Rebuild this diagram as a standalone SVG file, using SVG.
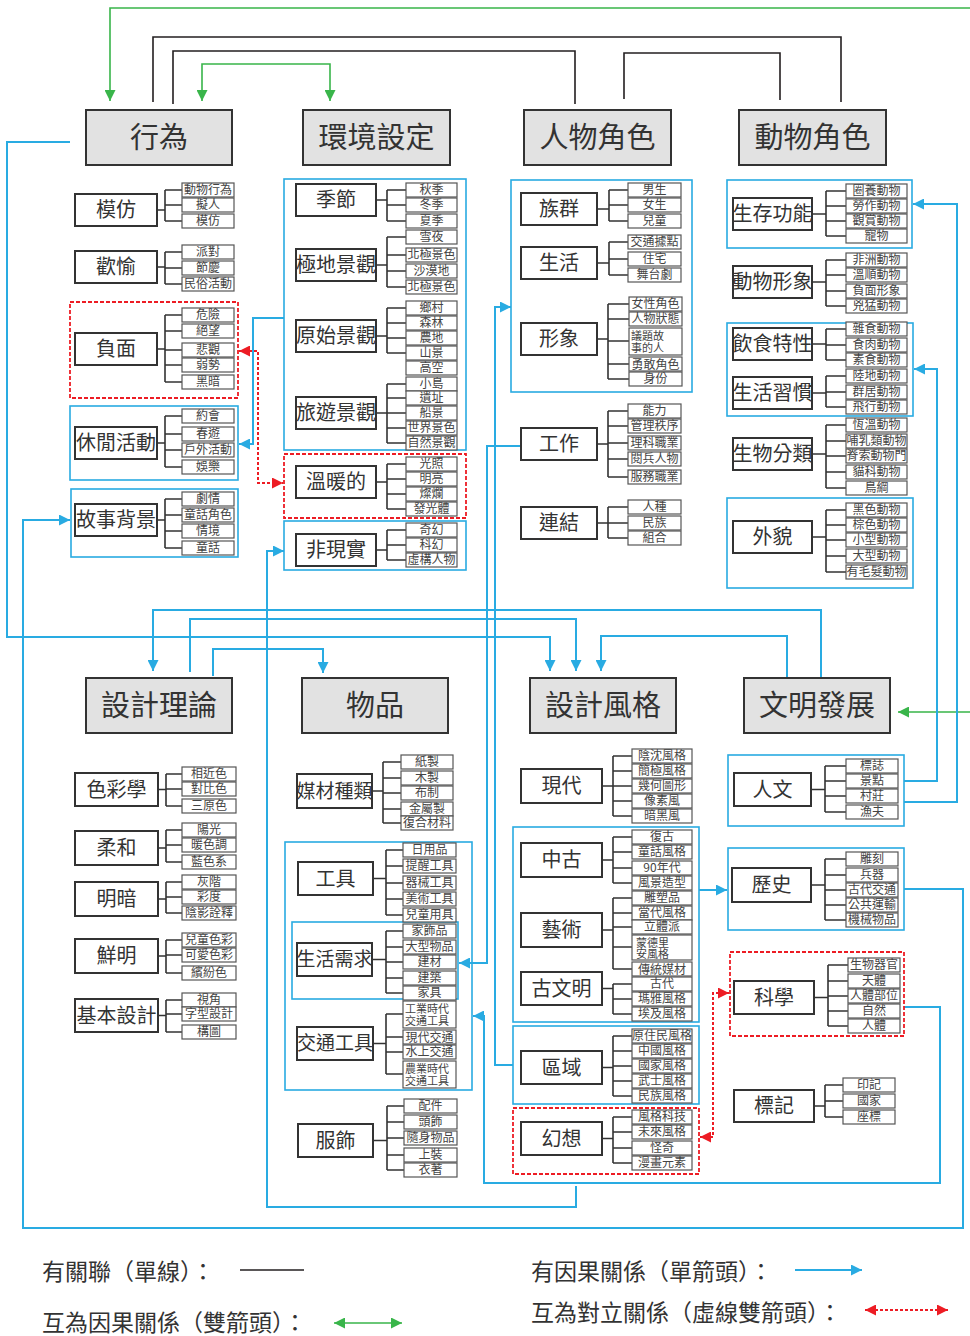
<svg xmlns="http://www.w3.org/2000/svg" width="970" height="1336" viewBox="0 0 970 1336" font-family="'Noto Sans CJK TC','Noto Sans CJK SC',sans-serif">
<style>
.m{fill:#e2e2e2;stroke:#333;stroke-width:2}
.mt{font-size:29px;fill:#333;text-anchor:middle}
.s{fill:#fff;stroke:#333;stroke-width:2}
.st{font-size:20px;fill:#333;text-anchor:middle}
.st19{font-size:19px;fill:#333;text-anchor:middle}
.l{fill:#fff;stroke:#555;stroke-width:1.2}
.lt{font-size:12px;fill:#444;text-anchor:middle}
.l2{font-size:11px;fill:#444}
.br{fill:none;stroke:#333;stroke-width:1.6}
.gb{fill:none;stroke:#29abe2;stroke-width:1.6}
.gr{fill:none;stroke:#ed1c24;stroke-width:1.8;stroke-dasharray:4 2}
.cb{fill:none;stroke:#29abe2;stroke-width:2}
.cg{fill:none;stroke:#39b54a;stroke-width:1.6}
.ck{fill:none;stroke:#231f20;stroke-width:1.6}
.cr{fill:none;stroke:#ed1c24;stroke-width:2;stroke-dasharray:3 2}
.lg{font-size:23px;fill:#333}
</style>
<defs>
<marker id="ab" viewBox="0 0 10 10" refX="10" refY="5" markerWidth="11" markerHeight="11" markerUnits="userSpaceOnUse" orient="auto"><path d="M0,0L10,5L0,10z" fill="#29abe2"/></marker>
<marker id="ag" viewBox="0 0 10 10" refX="10" refY="5" markerWidth="11" markerHeight="11" markerUnits="userSpaceOnUse" orient="auto-start-reverse"><path d="M0,0L10,5L0,10z" fill="#39b54a"/></marker>
<marker id="ar" viewBox="0 0 10 10" refX="10" refY="5" markerWidth="11" markerHeight="11" markerUnits="userSpaceOnUse" orient="auto-start-reverse"><path d="M0,0L10,5L0,10z" fill="#ed1c24"/></marker>
</defs>
<rect width="970" height="1336" fill="#fff"/>

<g id="connectors">
<path class="ck" d="M153,102V37H841V102"/>
<path class="ck" d="M173,104V51H575V104"/>
<path class="ck" d="M624,99V53H780V100"/>
<path class="cg" d="M110,101V8H980V712H898" marker-start="url(#ag)" marker-end="url(#ag)"/>
<path class="cg" d="M202,101V64H330V101" marker-start="url(#ag)" marker-end="url(#ag)"/>
<path class="cb" d="M70,142H7V637H550V671" marker-end="url(#ab)"/>
<path class="cb" d="M821,677V610H153V671" marker-end="url(#ab)"/>
<path class="cb" d="M190,672V619H576V671" marker-end="url(#ab)"/>
<path class="cb" d="M787,677V636H601V671" marker-end="url(#ab)"/>
<path class="cb" d="M213,676V649H323V673" marker-end="url(#ab)"/>
<path class="cb" d="M284,318H253V444H239" marker-end="url(#ab)"/>
<path class="cb" d="M513,1065H495V307H511" marker-end="url(#ab)"/>
<path class="cb" d="M521,446H487V963H459" marker-end="url(#ab)"/>
<path class="cb" d="M699,890H727" marker-end="url(#ab)"/>
<path class="cb" d="M904,781H937V369H914" marker-end="url(#ab)"/>
<path class="cb" d="M904,802H957V204H913" marker-end="url(#ab)"/>
<path class="cb" d="M904,889H963V1228H23V520H70" marker-end="url(#ab)"/>
<path class="cb" d="M904,1007H940V1183H484V1016H473" marker-end="url(#ab)"/>
<path class="cb" d="M576,1186V1207H267V551H284" marker-end="url(#ab)"/>
<path class="cr" d="M239,351H258V483H283" marker-start="url(#ar)" marker-end="url(#ar)"/>
<path class="cr" d="M729,993H713V1137H700" marker-start="url(#ar)" marker-end="url(#ar)"/>
</g>

<g id="main-行為"><rect class="m" x="86" y="110" width="146" height="55"/><text class="mt" x="159" y="148">行為</text></g>
<g id="main-環境設定"><rect class="m" x="303" y="110" width="147" height="55"/><text class="mt" x="376.5" y="148">環境設定</text></g>
<g id="main-人物角色"><rect class="m" x="524" y="110" width="147" height="55"/><text class="mt" x="597.5" y="148">人物角色</text></g>
<g id="main-動物角色"><rect class="m" x="739" y="110" width="147" height="55"/><text class="mt" x="812.5" y="148">動物角色</text></g>
<g id="main-設計理論"><rect class="m" x="86" y="678" width="146" height="55"/><text class="mt" x="159" y="716">設計理論</text></g>
<g id="main-物品"><rect class="m" x="302" y="678" width="146" height="55"/><text class="mt" x="375" y="716">物品</text></g>
<g id="main-設計風格"><rect class="m" x="530" y="678" width="146" height="55"/><text class="mt" x="603" y="716">設計風格</text></g>
<g id="main-文明發展"><rect class="m" x="744" y="678" width="146" height="55"/><text class="mt" x="817" y="716">文明發展</text></g>

<g id="frames">
<rect class="gr" x="70" y="302" width="168" height="96"/>
<rect class="gb" x="70" y="406" width="168" height="74"/>
<rect class="gb" x="71" y="489" width="167" height="68"/>
<rect class="gb" x="284" y="179" width="182" height="271"/>
<rect class="gr" x="284" y="454" width="182" height="64"/>
<rect class="gb" x="284" y="521" width="182" height="49"/>
<rect class="gb" x="511" y="180" width="181" height="212"/>
<rect class="gb" x="727" y="180" width="185" height="68"/>
<rect class="gb" x="727" y="323" width="186" height="93"/>
<rect class="gb" x="727" y="498" width="186" height="90"/>
<rect class="gb" x="285" y="842" width="187" height="248"/>
<rect class="gb" x="292" y="922" width="166" height="77"/>
<rect class="gb" x="513" y="827" width="186" height="195"/>
<rect class="gb" x="513" y="1026" width="186" height="78"/>
<rect class="gr" x="513" y="1108" width="186" height="66"/>
<rect class="gb" x="728" y="755" width="176" height="71"/>
<rect class="gb" x="728" y="848" width="176" height="82"/>
<rect class="gr" x="730" y="952" width="174" height="84"/>
</g>

<g id="n-模仿"><rect class="s" x="75" y="194" width="82" height="32"/><text class="st" x="116" y="217">模仿</text>
<path class="br" d="M157,210H165M165,190V221M165,190H182M165,205H182M165,221H182"/>
<rect class="l" x="182" y="183" width="52" height="14"/><text class="lt" x="208" y="194">動物行為</text>
<rect class="l" x="182" y="198" width="52" height="14"/><text class="lt" x="208" y="209">擬人</text>
<rect class="l" x="182" y="214" width="52" height="14"/><text class="lt" x="208" y="225">模仿</text></g>

<g id="n-歡愉"><rect class="s" x="75" y="251" width="82" height="32"/><text class="st" x="116" y="274">歡愉</text>
<path class="br" d="M157,267H165M165,252V284M165,252H182M165,268H182M165,284H182"/>
<rect class="l" x="182" y="245" width="52" height="14"/><text class="lt" x="208" y="256">派對</text>
<rect class="l" x="182" y="261" width="52" height="14"/><text class="lt" x="208" y="272">節慶</text>
<rect class="l" x="182" y="277" width="52" height="14"/><text class="lt" x="208" y="288">民俗活動</text></g>

<g id="n-負面"><rect class="s" x="75" y="333" width="82" height="32"/><text class="st" x="116" y="356">負面</text>
<path class="br" d="M157,349H165M165,315V382M165,315H182M165,331H182M165,350H182M165,365H182M165,382H182"/>
<rect class="l" x="182" y="308" width="52" height="14"/><text class="lt" x="208" y="319">危險</text>
<rect class="l" x="182" y="324" width="52" height="14"/><text class="lt" x="208" y="335">絕望</text>
<rect class="l" x="182" y="343" width="52" height="14"/><text class="lt" x="208" y="354">悲觀</text>
<rect class="l" x="182" y="358" width="52" height="14"/><text class="lt" x="208" y="369">弱勢</text>
<rect class="l" x="182" y="375" width="52" height="14"/><text class="lt" x="208" y="386">黑暗</text></g>

<g id="n-休閒活動"><rect class="s" x="75" y="427" width="82" height="32"/><text class="st" x="116" y="450">休閒活動</text>
<path class="br" d="M157,443H165M165,416V467M165,416H182M165,434H182M165,450H182M165,467H182"/>
<rect class="l" x="182" y="409" width="52" height="14"/><text class="lt" x="208" y="420">約會</text>
<rect class="l" x="182" y="427" width="52" height="14"/><text class="lt" x="208" y="438">春遊</text>
<rect class="l" x="182" y="443" width="52" height="14"/><text class="lt" x="208" y="454">戶外活動</text>
<rect class="l" x="182" y="460" width="52" height="14"/><text class="lt" x="208" y="471">娛樂</text></g>

<g id="n-故事背景"><rect class="s" x="75" y="504" width="82" height="32"/><text class="st" x="116" y="527">故事背景</text>
<path class="br" d="M157,520H165M165,499V548M165,499H182M165,515H182M165,531H182M165,548H182"/>
<rect class="l" x="182" y="492" width="52" height="14"/><text class="lt" x="208" y="503">劇情</text>
<rect class="l" x="182" y="508" width="52" height="14"/><text class="lt" x="208" y="519">童話角色</text>
<rect class="l" x="182" y="524" width="52" height="14"/><text class="lt" x="208" y="535">情境</text>
<rect class="l" x="182" y="541" width="52" height="14"/><text class="lt" x="208" y="552">童話</text></g>

<g id="n-季節"><rect class="s" x="296" y="184" width="80" height="32"/><text class="st" x="336" y="207">季節</text>
<path class="br" d="M376,200H387M387,190V221M387,190H406M387,205H406M387,221H406"/>
<rect class="l" x="406" y="183" width="51" height="14"/><text class="lt" x="431.5" y="194">秋季</text>
<rect class="l" x="406" y="198" width="51" height="14"/><text class="lt" x="431.5" y="209">冬季</text>
<rect class="l" x="406" y="214" width="51" height="14"/><text class="lt" x="431.5" y="225">夏季</text></g>

<g id="n-極地景觀"><rect class="s" x="296" y="249" width="80" height="32"/><text class="st" x="336" y="272">極地景觀</text>
<path class="br" d="M376,265H387M387,237V287M387,237H406M387,255H406M387,271H406M387,287H406"/>
<rect class="l" x="406" y="230" width="51" height="14"/><text class="lt" x="431.5" y="241">雪夜</text>
<rect class="l" x="406" y="248" width="51" height="14"/><text class="lt" x="431.5" y="259">北極景色</text>
<rect class="l" x="406" y="264" width="51" height="14"/><text class="lt" x="431.5" y="275">沙漠地</text>
<rect class="l" x="406" y="280" width="51" height="14"/><text class="lt" x="431.5" y="291">北極景色</text></g>

<g id="n-原始景觀"><rect class="s" x="296" y="320" width="80" height="32"/><text class="st" x="336" y="343">原始景觀</text>
<path class="br" d="M376,336H387M387,308V353M387,308H406M387,323H406M387,338H406M387,353H406"/>
<rect class="l" x="406" y="301" width="51" height="14"/><text class="lt" x="431.5" y="312">鄉村</text>
<rect class="l" x="406" y="316" width="51" height="14"/><text class="lt" x="431.5" y="327">森林</text>
<rect class="l" x="406" y="331" width="51" height="14"/><text class="lt" x="431.5" y="342">農地</text>
<rect class="l" x="406" y="346" width="51" height="14"/><text class="lt" x="431.5" y="357">山景</text>
<rect class="l" x="406" y="361" width="51" height="14"/><text class="lt" x="431.5" y="372">高空</text></g>

<g id="n-旅遊景觀"><rect class="s" x="296" y="397" width="80" height="32"/><text class="st" x="336" y="420">旅遊景觀</text>
<path class="br" d="M376,413H387M387,384V443M387,384H406M387,398H406M387,413H406M387,428H406M387,443H406"/>
<rect class="l" x="406" y="377" width="51" height="14"/><text class="lt" x="431.5" y="388">小島</text>
<rect class="l" x="406" y="391" width="51" height="14"/><text class="lt" x="431.5" y="402">遺址</text>
<rect class="l" x="406" y="406" width="51" height="14"/><text class="lt" x="431.5" y="417">船景</text>
<rect class="l" x="406" y="421" width="51" height="14"/><text class="lt" x="431.5" y="432">世界景色</text>
<rect class="l" x="406" y="436" width="51" height="14"/><text class="lt" x="431.5" y="447">自然景觀</text></g>

<g id="n-溫暖的"><rect class="s" x="296" y="466" width="80" height="32"/><text class="st" x="336" y="489">溫暖的</text>
<path class="br" d="M376,482H387M387,464V509M387,464H406M387,479H406M387,494H406M387,509H406"/>
<rect class="l" x="406" y="457" width="51" height="14"/><text class="lt" x="431.5" y="468">光照</text>
<rect class="l" x="406" y="472" width="51" height="14"/><text class="lt" x="431.5" y="483">明亮</text>
<rect class="l" x="406" y="487" width="51" height="14"/><text class="lt" x="431.5" y="498">燦爛</text>
<rect class="l" x="406" y="502" width="51" height="14"/><text class="lt" x="431.5" y="513">發光體</text></g>

<g id="n-非現實"><rect class="s" x="296" y="534" width="80" height="32"/><text class="st" x="336" y="557">非現實</text>
<path class="br" d="M376,550H387M387,530V560M387,530H406M387,545H406M387,560H406"/>
<rect class="l" x="406" y="523" width="51" height="14"/><text class="lt" x="431.5" y="534">奇幻</text>
<rect class="l" x="406" y="538" width="51" height="14"/><text class="lt" x="431.5" y="549">科幻</text>
<rect class="l" x="406" y="553" width="51" height="14"/><text class="lt" x="431.5" y="564">虛構人物</text></g>

<g id="n-族群"><rect class="s" x="521" y="193" width="76" height="32"/><text class="st" x="559" y="216">族群</text>
<path class="br" d="M597,209H609M609,190V221M609,190H628M609,205H628M609,221H628"/>
<rect class="l" x="628" y="183" width="53" height="14"/><text class="lt" x="654.5" y="194">男生</text>
<rect class="l" x="628" y="198" width="53" height="14"/><text class="lt" x="654.5" y="209">女生</text>
<rect class="l" x="628" y="214" width="53" height="14"/><text class="lt" x="654.5" y="225">兒童</text></g>

<g id="n-生活"><rect class="s" x="521" y="247" width="76" height="32"/><text class="st" x="559" y="270">生活</text>
<path class="br" d="M597,263H609M609,242V275M609,242H628M609,259H628M609,275H628"/>
<rect class="l" x="628" y="235" width="53" height="14"/><text class="lt" x="654.5" y="246">交通據點</text>
<rect class="l" x="628" y="252" width="53" height="14"/><text class="lt" x="654.5" y="263">住宅</text>
<rect class="l" x="628" y="268" width="53" height="14"/><text class="lt" x="654.5" y="279">舞台劇</text></g>

<g id="n-形象"><rect class="s" x="521" y="323" width="76" height="32"/><text class="st" x="559" y="346">形象</text>
<path class="br" d="M597,339H608M608,304V379M608,304H629M608,319H629M608,341H629M608,364H629M608,379H629"/>
<rect class="l" x="629" y="297" width="53" height="14"/><text class="lt" x="655.5" y="308">女性角色</text>
<rect class="l" x="629" y="312" width="53" height="14"/><text class="lt" x="655.5" y="322.5">人物狀態</text>
<rect class="l" x="629" y="328" width="53" height="27"/><text class="l2"><tspan x="631" y="340">議題故</tspan><tspan x="631" y="352">事的人</tspan></text>
<rect class="l" x="629" y="357" width="53" height="14"/><text class="lt" x="655.5" y="368.5">勇敢角色</text>
<rect class="l" x="629" y="372" width="53" height="14"/><text class="lt" x="655.5" y="383">身份</text></g>

<g id="n-工作"><rect class="s" x="521" y="428" width="76" height="32"/><text class="st" x="559" y="451">工作</text>
<path class="br" d="M597,444H608M608,411V477M608,411H628M608,426H628M608,443H628M608,459H628M608,477H628"/>
<rect class="l" x="628" y="404" width="53" height="14"/><text class="lt" x="654.5" y="415">能力</text>
<rect class="l" x="628" y="419" width="53" height="14"/><text class="lt" x="654.5" y="430">管理秩序</text>
<rect class="l" x="628" y="436" width="53" height="14"/><text class="lt" x="654.5" y="447">理科職業</text>
<rect class="l" x="628" y="452" width="53" height="14"/><text class="lt" x="654.5" y="463">閱兵人物</text>
<rect class="l" x="628" y="470" width="53" height="14"/><text class="lt" x="654.5" y="481">服務職業</text></g>

<g id="n-連結"><rect class="s" x="521" y="507" width="76" height="32"/><text class="st" x="559" y="530">連結</text>
<path class="br" d="M597,523H608M608,507V538M608,507H628M608,523H628M608,538H628"/>
<rect class="l" x="628" y="500" width="53" height="14"/><text class="lt" x="654.5" y="511">人種</text>
<rect class="l" x="628" y="516" width="53" height="14"/><text class="lt" x="654.5" y="527">民族</text>
<rect class="l" x="628" y="531" width="53" height="14"/><text class="lt" x="654.5" y="542">組合</text></g>

<g id="n-生存功能"><rect class="s" x="733" y="198" width="79" height="32"/><text class="st" x="772.5" y="221">生存功能</text>
<path class="br" d="M812,214H826M826,191V236M826,191H846M826,206H846M826,221H846M826,236H846"/>
<rect class="l" x="846" y="184" width="61" height="14"/><text class="lt" x="876.5" y="195">圈養動物</text>
<rect class="l" x="846" y="199" width="61" height="14"/><text class="lt" x="876.5" y="210">勞作動物</text>
<rect class="l" x="846" y="214" width="61" height="14"/><text class="lt" x="876.5" y="225">觀賞動物</text>
<rect class="l" x="846" y="229" width="61" height="14"/><text class="lt" x="876.5" y="240">寵物</text></g>

<g id="n-動物形象"><rect class="s" x="733" y="266" width="79" height="32"/><text class="st" x="772.5" y="289">動物形象</text>
<path class="br" d="M812,282H826M826,260V306M826,260H846M826,275H846M826,291H846M826,306H846"/>
<rect class="l" x="846" y="253" width="61" height="14"/><text class="lt" x="876.5" y="264">非洲動物</text>
<rect class="l" x="846" y="268" width="61" height="14"/><text class="lt" x="876.5" y="279">溫順動物</text>
<rect class="l" x="846" y="284" width="61" height="14"/><text class="lt" x="876.5" y="295">負面形象</text>
<rect class="l" x="846" y="299" width="61" height="14"/><text class="lt" x="876.5" y="310">兇猛動物</text></g>

<g id="n-飲食特性"><rect class="s" x="733" y="328" width="79" height="32"/><text class="st" x="772.5" y="351">飲食特性</text>
<path class="br" d="M812,344H826M826,329V360M826,329H846M826,345H846M826,360H846"/>
<rect class="l" x="846" y="322" width="61" height="14"/><text class="lt" x="876.5" y="333">雜食動物</text>
<rect class="l" x="846" y="338" width="61" height="14"/><text class="lt" x="876.5" y="349">食肉動物</text>
<rect class="l" x="846" y="353" width="61" height="14"/><text class="lt" x="876.5" y="364">素食動物</text></g>

<g id="n-生活習慣"><rect class="s" x="733" y="377" width="79" height="32"/><text class="st" x="772.5" y="400">生活習慣</text>
<path class="br" d="M812,393H826M826,376V407M826,376H846M826,392H846M826,407H846"/>
<rect class="l" x="846" y="369" width="61" height="14"/><text class="lt" x="876.5" y="380">陸地動物</text>
<rect class="l" x="846" y="385" width="61" height="14"/><text class="lt" x="876.5" y="396">群居動物</text>
<rect class="l" x="846" y="400" width="61" height="14"/><text class="lt" x="876.5" y="411">飛行動物</text></g>

<g id="n-生物分類"><rect class="s" x="733" y="438" width="79" height="32"/><text class="st" x="772.5" y="461">生物分類</text>
<path class="br" d="M812,454H826M826,425V488M826,425H846M826,441H846M826,456H846M826,472H846M826,488H846"/>
<rect class="l" x="846" y="418" width="61" height="14"/><text class="lt" x="876.5" y="429">恆溫動物</text>
<rect class="l" x="846" y="434" width="61" height="14"/><text class="lt" x="876.5" y="445">哺乳類動物</text>
<rect class="l" x="846" y="449" width="61" height="14"/><text class="lt" x="876.5" y="460">脊索動物門</text>
<rect class="l" x="846" y="465" width="61" height="14"/><text class="lt" x="876.5" y="476">貓科動物</text>
<rect class="l" x="846" y="481" width="61" height="14"/><text class="lt" x="876.5" y="492">鳥綱</text></g>

<g id="n-外貌"><rect class="s" x="733" y="521" width="79" height="32"/><text class="st" x="772.5" y="544">外貌</text>
<path class="br" d="M812,537H826M826,510V572M826,510H846M826,525H846M826,540H846M826,556H846M826,572H846"/>
<rect class="l" x="846" y="503" width="61" height="14"/><text class="lt" x="876.5" y="514">黑色動物</text>
<rect class="l" x="846" y="518" width="61" height="14"/><text class="lt" x="876.5" y="529">棕色動物</text>
<rect class="l" x="846" y="533" width="61" height="14"/><text class="lt" x="876.5" y="544">小型動物</text>
<rect class="l" x="846" y="549" width="61" height="14"/><text class="lt" x="876.5" y="560">大型動物</text>
<rect class="l" x="846" y="565" width="61" height="14"/><text class="lt" x="876.5" y="576">有毛髮動物</text></g>

<g id="n-色彩學"><rect class="s" x="75" y="773" width="83" height="33"/><text class="st" x="116.5" y="796.5">色彩學</text>
<path class="br" d="M158,789.5H166M166,774V806M166,774H182M166,789H182M166,806H182"/>
<rect class="l" x="182" y="767" width="54" height="14"/><text class="lt" x="209" y="778">相近色</text>
<rect class="l" x="182" y="782" width="54" height="14"/><text class="lt" x="209" y="793">對比色</text>
<rect class="l" x="182" y="799" width="54" height="14"/><text class="lt" x="209" y="810">三原色</text></g>

<g id="n-柔和"><rect class="s" x="75" y="831" width="83" height="34"/><text class="st" x="116.5" y="855">柔和</text>
<path class="br" d="M158,848H166M166,830V862M166,830H182M166,845H182M166,862H182"/>
<rect class="l" x="182" y="823" width="54" height="14"/><text class="lt" x="209" y="834">陽光</text>
<rect class="l" x="182" y="838" width="54" height="14"/><text class="lt" x="209" y="849">暖色調</text>
<rect class="l" x="182" y="855" width="54" height="14"/><text class="lt" x="209" y="866">藍色系</text></g>

<g id="n-明暗"><rect class="s" x="75" y="882" width="83" height="34"/><text class="st" x="116.5" y="906">明暗</text>
<path class="br" d="M158,899H166M166,882V913M166,882H182M166,897H182M166,913H182"/>
<rect class="l" x="182" y="875" width="54" height="14"/><text class="lt" x="209" y="886">灰階</text>
<rect class="l" x="182" y="890" width="54" height="14"/><text class="lt" x="209" y="901">彩度</text>
<rect class="l" x="182" y="906" width="54" height="14"/><text class="lt" x="209" y="917">陰影詮釋</text></g>

<g id="n-鮮明"><rect class="s" x="75" y="939" width="83" height="34"/><text class="st" x="116.5" y="963">鮮明</text>
<path class="br" d="M158,956H166M166,940V973M166,940H182M166,955H182M166,973H182"/>
<rect class="l" x="182" y="933" width="54" height="14"/><text class="lt" x="209" y="944">兒童色彩</text>
<rect class="l" x="182" y="948" width="54" height="14"/><text class="lt" x="209" y="959">可愛色彩</text>
<rect class="l" x="182" y="966" width="54" height="14"/><text class="lt" x="209" y="977">繽紛色</text></g>

<g id="n-基本設計"><rect class="s" x="75" y="999" width="83" height="33"/><text class="st" x="116.5" y="1022.5">基本設計</text>
<path class="br" d="M158,1015.5H166M166,1000V1032M166,1000H182M166,1014H182M166,1032H182"/>
<rect class="l" x="182" y="993" width="54" height="14"/><text class="lt" x="209" y="1004">視角</text>
<rect class="l" x="182" y="1007" width="54" height="14"/><text class="lt" x="209" y="1018">字型設計</text>
<rect class="l" x="182" y="1025" width="54" height="14"/><text class="lt" x="209" y="1036">構圖</text></g>

<g id="n-媒材種類"><rect class="s" x="297" y="774" width="75" height="34"/><text class="st19" x="334.5" y="798">媒材種類</text>
<path class="br" d="M372,791H383M383,762V823M383,762H401M383,778H401M383,793H401M383,809H401M383,823H401"/>
<rect class="l" x="401" y="755" width="52" height="14"/><text class="lt" x="427" y="766">紙製</text>
<rect class="l" x="401" y="771" width="52" height="14"/><text class="lt" x="427" y="782">木製</text>
<rect class="l" x="401" y="786" width="52" height="14"/><text class="lt" x="427" y="797">布制</text>
<rect class="l" x="401" y="802" width="52" height="14"/><text class="lt" x="427" y="813">金屬製</text>
<rect class="l" x="401" y="816" width="52" height="14"/><text class="lt" x="427" y="827">復合材料</text></g>

<g id="n-工具"><rect class="s" x="298" y="862" width="75" height="33"/><text class="st" x="335.5" y="885.5">工具</text>
<path class="br" d="M373,878.5H386M386,850V915M386,850H403M386,866H403M386,883H403M386,899H403M386,915H403"/>
<rect class="l" x="403" y="843" width="53" height="14"/><text class="lt" x="429.5" y="854">日用品</text>
<rect class="l" x="403" y="859" width="53" height="14"/><text class="lt" x="429.5" y="870">提醒工具</text>
<rect class="l" x="403" y="876" width="53" height="14"/><text class="lt" x="429.5" y="887">器械工具</text>
<rect class="l" x="403" y="892" width="53" height="14"/><text class="lt" x="429.5" y="903">美術工具</text>
<rect class="l" x="403" y="908" width="53" height="14"/><text class="lt" x="429.5" y="919">兒童用具</text></g>

<g id="n-生活需求"><rect class="s" x="297" y="943" width="75" height="33"/><text class="st19" x="334.5" y="966">生活需求</text>
<path class="br" d="M372,959.5H386M386,931V993M386,931H403M386,947H403M386,962H403M386,978H403M386,993H403"/>
<rect class="l" x="403" y="924" width="53" height="14"/><text class="lt" x="429.5" y="935">家飾品</text>
<rect class="l" x="403" y="940" width="53" height="14"/><text class="lt" x="429.5" y="951">大型物品</text>
<rect class="l" x="403" y="955" width="53" height="14"/><text class="lt" x="429.5" y="966">建材</text>
<rect class="l" x="403" y="971" width="53" height="14"/><text class="lt" x="429.5" y="982">建築</text>
<rect class="l" x="403" y="986" width="53" height="14"/><text class="lt" x="429.5" y="996.5">家具</text></g>

<g id="n-交通工具"><rect class="s" x="297" y="1027" width="76" height="33"/><text class="st19" x="335" y="1050">交通工具</text>
<path class="br" d="M373,1043.5H386M386,1014V1074M386,1014H403M386,1037H403M386,1052H403M386,1074H403"/>
<rect class="l" x="403" y="1001" width="53" height="27"/><text class="l2"><tspan x="405" y="1013">工業時代</tspan><tspan x="405" y="1025">交通工具</tspan></text>
<rect class="l" x="403" y="1030" width="53" height="14"/><text class="lt" x="429.5" y="1041.5">現代交通</text>
<rect class="l" x="403" y="1045" width="53" height="14"/><text class="lt" x="429.5" y="1056">水上交通</text>
<rect class="l" x="403" y="1061" width="53" height="27"/><text class="l2"><tspan x="405" y="1073">農業時代</tspan><tspan x="405" y="1085">交通工具</tspan></text></g>

<g id="n-服飾"><rect class="s" x="298" y="1124" width="75" height="33"/><text class="st" x="335.5" y="1147.5">服飾</text>
<path class="br" d="M373,1140.5H387M387,1106V1170M387,1106H404M387,1122H404M387,1138H404M387,1155H404M387,1170H404"/>
<rect class="l" x="404" y="1099" width="53" height="14"/><text class="lt" x="430.5" y="1110">配件</text>
<rect class="l" x="404" y="1115" width="53" height="14"/><text class="lt" x="430.5" y="1126">頭飾</text>
<rect class="l" x="404" y="1131" width="53" height="14"/><text class="lt" x="430.5" y="1142">隨身物品</text>
<rect class="l" x="404" y="1148" width="53" height="14"/><text class="lt" x="430.5" y="1159">上裝</text>
<rect class="l" x="404" y="1163" width="53" height="14"/><text class="lt" x="430.5" y="1174">衣著</text></g>

<g id="n-現代"><rect class="s" x="521" y="769" width="81" height="34"/><text class="st" x="561.5" y="793">現代</text>
<path class="br" d="M602,786H613M613,756V816M613,756H632M613,771H632M613,786H632M613,801H632M613,816H632"/>
<rect class="l" x="632" y="749" width="60" height="14"/><text class="lt" x="662" y="760">陰沈風格</text>
<rect class="l" x="632" y="764" width="60" height="14"/><text class="lt" x="662" y="775">簡極風格</text>
<rect class="l" x="632" y="779" width="60" height="14"/><text class="lt" x="662" y="790">幾何圖形</text>
<rect class="l" x="632" y="794" width="60" height="14"/><text class="lt" x="662" y="805">像素風</text>
<rect class="l" x="632" y="809" width="60" height="14"/><text class="lt" x="662" y="820">暗黑風</text></g>

<g id="n-中古"><rect class="s" x="521" y="843" width="81" height="34"/><text class="st" x="561.5" y="867">中古</text>
<path class="br" d="M602,860H613M613,837V883M613,837H632M613,852H632M613,868H632M613,883H632"/>
<rect class="l" x="632" y="830" width="60" height="14"/><text class="lt" x="662" y="841">復古</text>
<rect class="l" x="632" y="845" width="60" height="14"/><text class="lt" x="662" y="856">童話風格</text>
<rect class="l" x="632" y="861" width="60" height="14"/><text class="lt" x="662" y="872">90年代</text>
<rect class="l" x="632" y="876" width="60" height="14"/><text class="lt" x="662" y="887">風景造型</text></g>

<g id="n-藝術"><rect class="s" x="521" y="913" width="81" height="34"/><text class="st" x="561.5" y="937">藝術</text>
<path class="br" d="M602,930H613M613,898V969M613,898H632M613,913H632M613,927H632M613,947H632M613,969H632"/>
<rect class="l" x="632" y="891" width="60" height="14"/><text class="lt" x="662" y="902">雕塑品</text>
<rect class="l" x="632" y="906" width="60" height="14"/><text class="lt" x="662" y="917">當代風格</text>
<rect class="l" x="632" y="920" width="60" height="14"/><text class="lt" x="662" y="930.5">立體派</text>
<rect class="l" x="632" y="935" width="60" height="25"/><text class="l2"><tspan x="636" y="946.5">蒙德里</tspan><tspan x="636" y="957.5">安風格</tspan></text>
<rect class="l" x="632" y="962" width="60" height="14"/><text class="lt" x="662" y="974">傳統媒材</text></g>

<g id="n-古文明"><rect class="s" x="521" y="972" width="81" height="33"/><text class="st" x="561.5" y="995.5">古文明</text>
<path class="br" d="M602,988.5H613M613,984V1014M613,984H632M613,999H632M613,1014H632"/>
<rect class="l" x="632" y="977" width="60" height="14"/><text class="lt" x="662" y="988">古代</text>
<rect class="l" x="632" y="992" width="60" height="14"/><text class="lt" x="662" y="1003">瑪雅風格</text>
<rect class="l" x="632" y="1007" width="60" height="14"/><text class="lt" x="662" y="1018">埃及風格</text></g>

<g id="n-區域"><rect class="s" x="521" y="1051" width="81" height="33"/><text class="st" x="561.5" y="1074.5">區域</text>
<path class="br" d="M602,1067.5H613M613,1036V1096M613,1036H632M613,1051H632M613,1066H632M613,1081H632M613,1096H632"/>
<rect class="l" x="632" y="1029" width="60" height="14"/><text class="lt" x="662" y="1040">原住民風格</text>
<rect class="l" x="632" y="1044" width="60" height="14"/><text class="lt" x="662" y="1055">中國風格</text>
<rect class="l" x="632" y="1059" width="60" height="14"/><text class="lt" x="662" y="1070">國家風格</text>
<rect class="l" x="632" y="1074" width="60" height="14"/><text class="lt" x="662" y="1085">武士風格</text>
<rect class="l" x="632" y="1089" width="60" height="14"/><text class="lt" x="662" y="1100">民族風格</text></g>

<g id="n-幻想"><rect class="s" x="521" y="1122" width="81" height="33"/><text class="st" x="561.5" y="1145.5">幻想</text>
<path class="br" d="M602,1138.5H613M613,1117V1163M613,1117H632M613,1132H632M613,1148H632M613,1163H632"/>
<rect class="l" x="632" y="1110" width="60" height="14"/><text class="lt" x="662" y="1121">風格科技</text>
<rect class="l" x="632" y="1125" width="60" height="14"/><text class="lt" x="662" y="1136">未來風格</text>
<rect class="l" x="632" y="1141" width="60" height="14"/><text class="lt" x="662" y="1152">怪奇</text>
<rect class="l" x="632" y="1156" width="60" height="14"/><text class="lt" x="662" y="1167">漫畫元素</text></g>

<g id="n-人文"><rect class="s" x="734" y="773" width="77" height="33"/><text class="st" x="772.5" y="796.5">人文</text>
<path class="br" d="M811,789.5H825M825,766V812M825,766H846M825,781H846M825,796H846M825,812H846"/>
<rect class="l" x="846" y="759" width="52" height="14"/><text class="lt" x="872" y="770">標誌</text>
<rect class="l" x="846" y="774" width="52" height="14"/><text class="lt" x="872" y="785">景點</text>
<rect class="l" x="846" y="789" width="52" height="14"/><text class="lt" x="872" y="800">村莊</text>
<rect class="l" x="846" y="805" width="52" height="14"/><text class="lt" x="872" y="816">漁夫</text></g>

<g id="n-歷史"><rect class="s" x="732" y="868" width="79" height="34"/><text class="st" x="771.5" y="892">歷史</text>
<path class="br" d="M811,885H825M825,859V920M825,859H846M825,875H846M825,890H846M825,905H846M825,920H846"/>
<rect class="l" x="846" y="852" width="52" height="14"/><text class="lt" x="872" y="863">雕刻</text>
<rect class="l" x="846" y="868" width="52" height="14"/><text class="lt" x="872" y="879">兵器</text>
<rect class="l" x="846" y="883" width="52" height="14"/><text class="lt" x="872" y="894">古代交通</text>
<rect class="l" x="846" y="898" width="52" height="14"/><text class="lt" x="872" y="909">公共運輸</text>
<rect class="l" x="846" y="913" width="52" height="14"/><text class="lt" x="872" y="924">機械物品</text></g>

<g id="n-科學"><rect class="s" x="734" y="981" width="80" height="33"/><text class="st" x="774" y="1004.5">科學</text>
<path class="br" d="M814,997.5H828M828,965V1026M828,965H848M828,981H848M828,996H848M828,1011H848M828,1026H848"/>
<rect class="l" x="848" y="958" width="52" height="14"/><text class="lt" x="874" y="969">生物器官</text>
<rect class="l" x="848" y="974" width="52" height="14"/><text class="lt" x="874" y="985">天體</text>
<rect class="l" x="848" y="989" width="52" height="14"/><text class="lt" x="874" y="1000">人體部位</text>
<rect class="l" x="848" y="1004" width="52" height="14"/><text class="lt" x="874" y="1015">自然</text>
<rect class="l" x="848" y="1019" width="52" height="14"/><text class="lt" x="874" y="1030">人體</text></g>

<g id="n-標記"><rect class="s" x="734" y="1090" width="80" height="32"/><text class="st" x="774" y="1113">標記</text>
<path class="br" d="M814,1106H825M825,1085V1117M825,1085H843M825,1101H843M825,1117H843"/>
<rect class="l" x="843" y="1078" width="52" height="14"/><text class="lt" x="869" y="1089">印記</text>
<rect class="l" x="843" y="1094" width="52" height="14"/><text class="lt" x="869" y="1105">國家</text>
<rect class="l" x="843" y="1110" width="52" height="14"/><text class="lt" x="869" y="1121">座標</text></g>

<g id="legend">
<text class="lg" x="42" y="1280">有關聯（單線）：</text>
<path class="ck" d="M240,1270H304"/>
<text class="lg" x="531" y="1280">有因果關係（單箭頭）：</text>
<path class="cb" d="M795,1270H862" marker-end="url(#ab)"/>
<text class="lg" x="42" y="1331">互為因果關係（雙箭頭）：</text>
<path class="cg" d="M334,1323H402" marker-start="url(#ag)" marker-end="url(#ag)"/>
<text class="lg" x="531" y="1321">互為對立關係（虛線雙箭頭）：</text>
<path class="cr" d="M865,1310H948" marker-start="url(#ar)" marker-end="url(#ar)"/>
</g>
</svg>
